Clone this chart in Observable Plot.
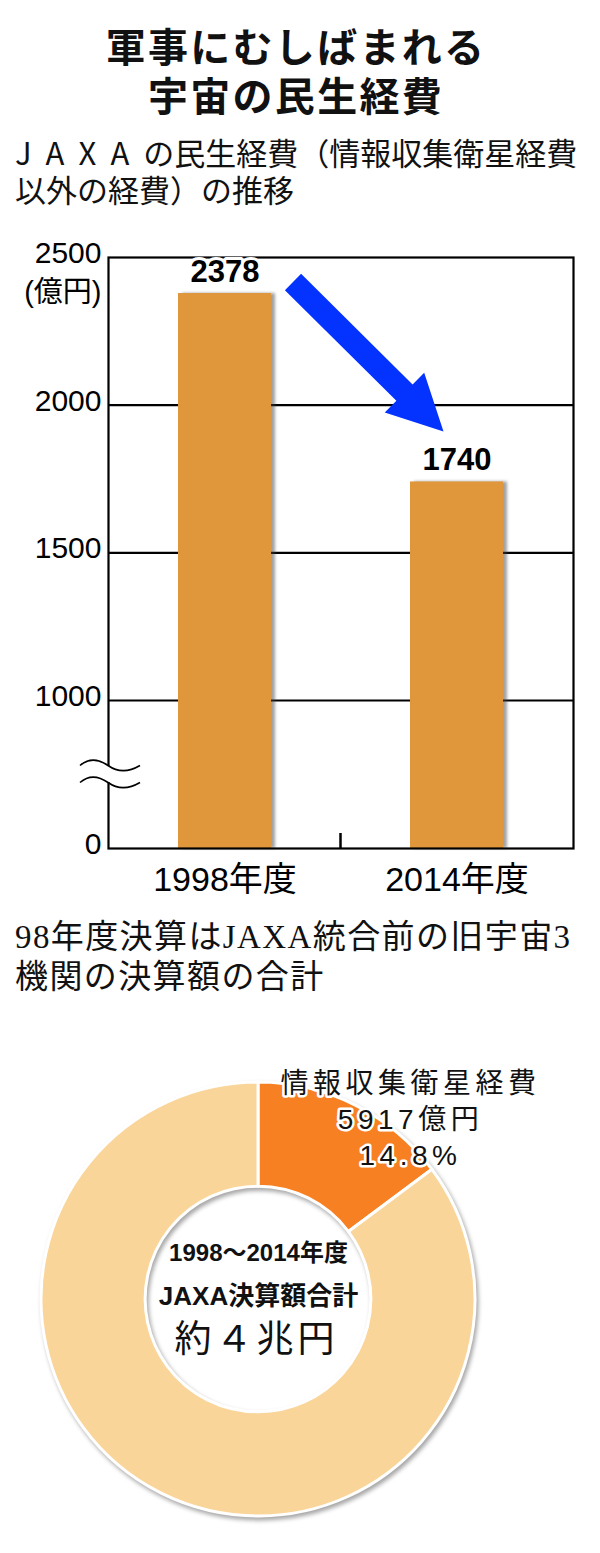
<!DOCTYPE html>
<html><head><meta charset="utf-8">
<script src="https://cdn.jsdelivr.net/npm/d3@7"></script>
<script src="https://cdn.jsdelivr.net/npm/@observablehq/plot@0.6"></script>
<style>
html,body{margin:0;padding:0;background:#fff;}
#page{position:relative;width:600px;height:1553px;overflow:hidden;background:#fff;}
.t{position:absolute;white-space:nowrap;line-height:1;color:#111;margin:0;}
.title{font-family:'Noto Sans CJK JP',sans-serif;font-weight:bold;font-size:40px;letter-spacing:2.3px;line-height:49px;width:600px;text-align:center;}
.sub{font-family:'Noto Sans CJK JP',sans-serif;font-size:31px;line-height:37px;}
.note{font-family:'Liberation Serif','Noto Sans CJK JP',serif;font-size:33px;letter-spacing:1.4px;line-height:40px;}
.bshadow{filter:blur(1.5px);}
.lbl{letter-spacing:4.5px;}
.big{letter-spacing:4px;}
svg{position:absolute;left:0;}
</style></head><body><div id="page"></div>
<script>
// ---- data ----
const titleLines = ["軍事にむしばまれる", "宇宙の民生経費"];
const subtitleLines = ["JAXAの民生経費（情報収集衛星経費", "以外の経費）の推移"];
const noteLines = ["98年度決算はJAXA統合前の旧宇宙3", "機関の決算額の合計"];
const years = ["1998年度", "2014年度"];
const civilSpending = [2378, 1740];
const yTicks = [0, 1000, 1500, 2000, 2500];
const gridValues = [1000, 1500, 2000];
const unitLabel = "(億円)";
const donutNames = ["情報収集衛星経費", "その他の経費"];
const donutShares = [14.8, 85.2];
const satelliteAmount = 5917;
const centerLines = ["1998～2014年度", "JAXA決算額合計", "約４兆円"];

const page = document.getElementById("page");
function addText(cls, html, left, top) {
  const d = document.createElement("div");
  d.className = "t " + cls;
  d.style.left = left + "px";
  d.style.top = top + "px";
  d.innerHTML = html;
  page.appendChild(d);
}
addText("title", titleLines.join("<br>"), -4, 21);
addText("sub", subtitleLines[0].replace("JAXA", '<span style="letter-spacing:14px">JAXA</span>') + "<br>" + subtitleLines[1], 15, 133);
addText("note", noteLines.join("<br>"), 15, 917);

const FONT = "'Liberation Sans','Noto Sans CJK JP',sans-serif";
const barData = years.map((year, i) => ({year, value: civilSpending[i]}));
const bwOf = (x) => typeof x.bandwidth === "function" ? x.bandwidth() : (x.bandwidth || 0);

function breakMark(index, {x, y}, values, dims) {
  const g = d3.create("svg:g");
  const yb = (y(yTicks[0]) + y(yTicks[1])) / 2;
  const x0 = dims.marginLeft;
  g.append("rect").attr("x", x0 - 5).attr("y", yb - 8).attr("width", 10).attr("height", 16).attr("fill", "white");
  for (const off of [-8.5, 8.5]) {
    g.append("path")
      .attr("d", `M${x0 - 28},${yb + off} c8,-7 18,-7 28,0 s20,7 32,0`)
      .attr("fill", "none").attr("stroke", "#000").attr("stroke-width", 1.6);
  }
  return g.node();
}
function midTick(index, {x, y}) {
  const bw = bwOf(x);
  const mx = (x(years[0]) + x(years[1])) / 2 + bw / 2;
  return d3.create("svg:line").attr("x1", mx).attr("x2", mx)
    .attr("y1", y(0)).attr("y2", y(0) - 15)
    .attr("stroke", "#000").attr("stroke-width", 2.5).node();
}
function arrowMark(index, {x, y}) {
  const bw = bwOf(x);
  const tail = [x(years[0]) + bw + 22, y(civilSpending[0]) - 11];
  const tip = [x(years[1]) + bw / 2 - 13, y(civilSpending[1]) - 50];
  const dx = tip[0] - tail[0], dy = tip[1] - tail[1];
  const L = Math.hypot(dx, dy);
  const u = [dx / L, dy / L], n = [-u[1], u[0]];
  const sw = 11.5, hw = 28, hl = 55;
  const base = [tip[0] - u[0] * hl, tip[1] - u[1] * hl];
  const p = (pt, k) => [pt[0] + n[0] * k, pt[1] + n[1] * k];
  const pts = [p(tail, sw), p(base, sw), p(base, hw), tip, p(base, -hw), p(base, -sw), p(tail, -sw)];
  return d3.create("svg:polygon").attr("points", pts.map(q => q.join(",")).join(" "))
    .attr("fill", "#0433ff").node();
}

const bar = Plot.plot({
  width: 600, height: 680,
  marginLeft: 108, marginRight: 27, marginTop: 27, marginBottom: 62,
  style: {fontFamily: FONT, background: "transparent", overflow: "visible", color: "#000"},
  x: {type: "band", domain: years, paddingInner: 0.6, paddingOuter: 0.3},
  y: {type: "linear", domain: [0, 1000, 2500], range: [618, 470, 27]},
  marks: [
    Plot.ruleY(gridValues, {stroke: "#000", strokeWidth: 2.2}),
    Plot.barY(barData, {x: "year", y: "value", fill: "#444", fillOpacity: 0.5, dx: 4, className: "bshadow"}),
    Plot.barY(barData, {x: "year", y: "value", fill: "#E0963B"}),
    Plot.frame({stroke: "#000", strokeWidth: 2.2}),
    breakMark,
    midTick,
    Plot.axisY({ticks: yTicks, tickSize: 0, tickPadding: 7, fontSize: 30, dy: -4, tickFormat: d => String(d), label: null}),
    Plot.axisX({tickSize: 0, tickPadding: 18, fontSize: 34, label: null}),
    Plot.text([unitLabel], {frameAnchor: "top-left", lineAnchor: "middle", dx: -7, dy: 35, textAnchor: "end", fontSize: 29}),
    Plot.text(barData, {x: "year", y: "value", text: d => String(d.value), dy: -12, lineAnchor: "bottom",
      fontWeight: "bold", fontSize: 31, fill: "#000", stroke: "white", strokeWidth: 6}),
    arrowMark
  ]
});
bar.style.top = "230px";
page.appendChild(bar);

// ---- donut ----
const donutColors = ["#F78022", "#FAD599"];
function donutMark(index, scales, values, dims) {
  const fw = dims.width - dims.marginLeft - dims.marginRight;
  const fh = dims.height - dims.marginTop - dims.marginBottom;
  const cx = dims.marginLeft + fw / 2, cy = dims.marginTop + fh / 2;
  const R = Math.min(fw, fh) / 2, r = R * 0.52;
  const pie = d3.pie().sort(null)(donutShares);
  const arc = d3.arc().innerRadius(r).outerRadius(R);
  const g = d3.create("svg:g").attr("transform", `translate(${cx},${cy})`)
    .style("filter", "drop-shadow(2px 3px 2px rgba(0,0,0,0.35))");
  g.selectAll("path").data(pie).join("path")
    .attr("d", arc).attr("fill", (d, i) => donutColors[i])
    .attr("stroke", "white").attr("stroke-width", 3).attr("stroke-linejoin", "round");
  return g.node();
}
const donut = Plot.plot({
  width: 600, height: 513,
  marginLeft: 41, marginRight: 125, marginTop: 42, marginBottom: 37,
  style: {fontFamily: FONT, background: "transparent", overflow: "visible", color: "#000"},
  marks: [
    donutMark,
    Plot.text([`${donutNames[0]}\n${satelliteAmount}億円\n${donutShares[0]}%`], {
      frameAnchor: "top-left", textAnchor: "middle", lineAnchor: "middle", dx: 369, dy: 35, fontSize: 28, lineHeight: 1.29,
      fill: "#111", stroke: "white", strokeWidth: 5, className: "lbl"}),
    Plot.text([centerLines[0]], {frameAnchor: "middle", dy: -46, fontSize: 24, fontWeight: "bold", fill: "#111"}),
    Plot.text([centerLines[1]], {frameAnchor: "middle", dy: -3, fontSize: 26, fontWeight: "bold", fill: "#111"}),
    Plot.text([centerLines[2]], {frameAnchor: "middle", dx: -2, dy: 41, fontSize: 37, fill: "#111", className: "big"})
  ]
});
donut.style.top = "1040px";
page.appendChild(donut);
</script>
</body></html>
